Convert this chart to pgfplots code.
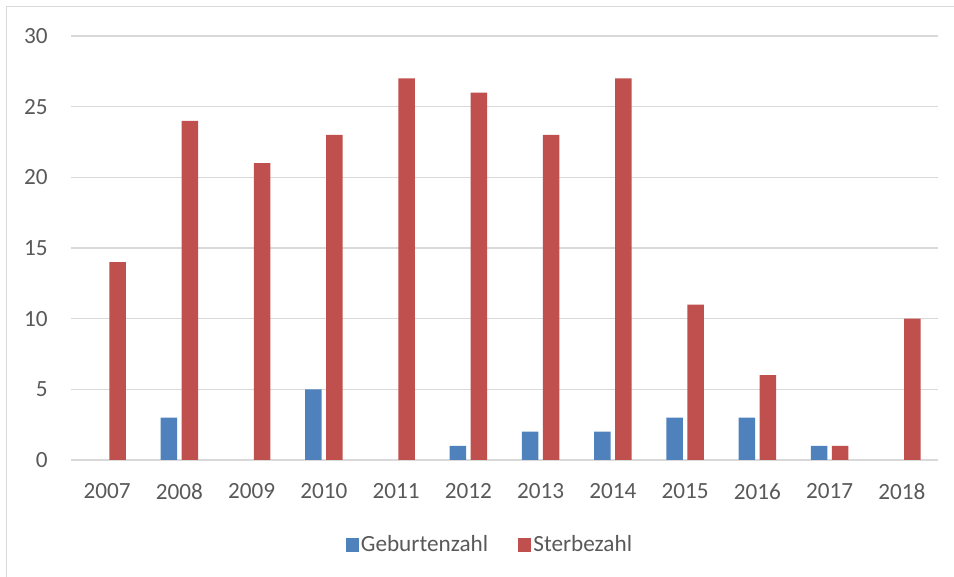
\documentclass[border=0pt]{standalone}
\usepackage{pgfplots}
\pgfplotsset{compat=1.18}
\usepackage{fontspec}
\setmainfont{Carlito}
\definecolor{cblue}{HTML}{4F81BD}
\definecolor{cred}{HTML}{C0504D}
\definecolor{tgray}{HTML}{595959}
\definecolor{ggray}{HTML}{D9D9D9}
\pgfplotsset{sqlegend/.style={legend image code/.code={\fill[##1] (0pt,-3.3pt) rectangle (6.6pt,3.3pt);}}}
\begin{document}
\begin{tikzpicture}
\useasboundingbox (0,0) rectangle (477pt,288.5pt);
\draw[ggray, line width=0.65pt] (3.3pt,-1pt) -- (3.3pt,285.2pt) -- (478pt,285.2pt);
\begin{axis}[
  at={(35.5pt,58.5pt)}, anchor=south west,
  scale only axis, width=433.5pt, height=212pt,
  ybar=2.2pt, bar width=8.25pt,
  xmin=-0.5, xmax=11.5, ymin=0, ymax=30,
  xtick={0,...,11},
  xticklabels={2007,2008,2009,2010,2011,2012,2013,2014,2015,2016,2017,2018},
  ytick={0,5,...,30},
  ymajorgrids, grid style={ggray, line width=0.65pt},
  axis line style={draw=none},
  major tick length=0pt,
  tick label style={font=\fontsize{11.6}{14}\selectfont, text=tgray, inner sep=0pt},
  /pgf/number format/assume math mode=true,
  yticklabel shift=11.5pt,
  xticklabel shift=11.5pt,
  legend columns=2,
  legend style={draw=none, fill=none, at={(0.482,-0.2005)}, anchor=center,
    font=\fontsize{11.6}{14}\selectfont, text=tgray,
    /tikz/every odd column/.style={column sep=1pt},
    /tikz/every even column/.style={column sep=15pt},
    nodes={inner sep=0pt}},
]
\addplot[fill=cblue, draw=none, sqlegend] coordinates {(1,3) (3,5) (5,1) (6,2) (7,2) (8,3) (9,3) (10,1)};
\addplot[fill=cred, draw=none, sqlegend] coordinates {(0,14) (1,24) (2,21) (3,23) (4,27) (5,26) (6,23) (7,27) (8,11) (9,6) (10,1) (11,10)};
\legend{Geburtenzahl, Sterbezahl}
\end{axis}
\end{tikzpicture}
\end{document}
